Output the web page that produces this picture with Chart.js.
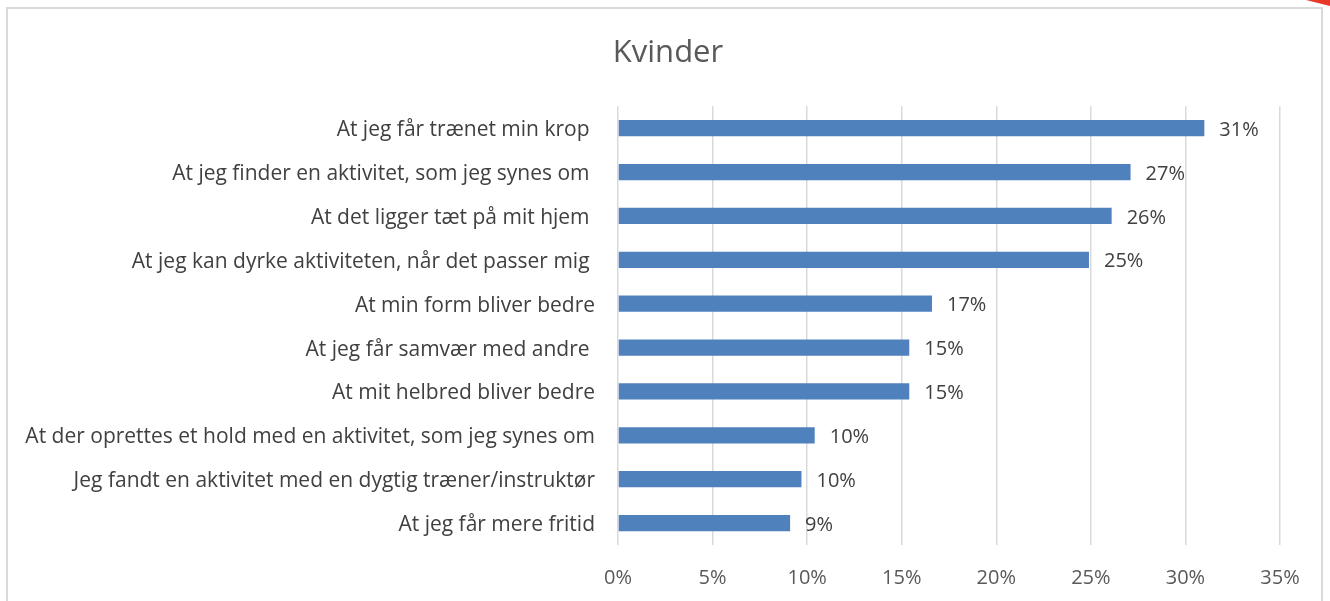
<!DOCTYPE html>
<html>
<head>
<meta charset="utf-8">
<script src="https://cdn.jsdelivr.net/npm/chart.js@4/dist/chart.umd.min.js"></script>
<style>
    html, body { margin: 0; padding: 0; background: #fff; overflow: hidden; }
    .frame { position: absolute; left: 6px; top: 7px; width: 1313px; height: 700px; border: 2px solid #d9d9d9; }
    .corner { position: absolute; right: 0; top: 0; width: 24px; height: 6px; background: #e8382c; clip-path: polygon(0 0, 100% 0, 100% 100%); }
    #chart { position: absolute; left: 0; top: 0; }
</style>
</head>
<body>
<div class="frame"></div>
<div class="corner"></div>
<canvas id="chart" width="1330" height="601"></canvas>
<script>
// categories, top to bottom
var categories = [
    'At jeg får trænet min krop ',
    'At jeg finder en aktivitet, som jeg synes om ',
    'At det ligger tæt på mit hjem ',
    'At jeg kan dyrke aktiviteten, når det passer mig ',
    'At min form bliver bedre',
    'At jeg får samvær med andre ',
    'At mit helbred bliver bedre',
    'At der oprettes et hold med en aktivitet, som jeg synes om',
    'Jeg fandt en aktivitet med en dygtig træner/instruktør',
    'At jeg får mere fritid'
];
// share of women, in percent
var values = [31.0, 27.1, 26.1, 24.9, 16.6, 15.4, 15.4, 10.4, 9.7, 9.1];
var tickValues = [0, 5, 10, 15, 20, 25, 30, 35];

var fontName = "'Open Sans', 'Liberation Sans', sans-serif";

/*  value labels next to the bars  */
var barLabels = {
    id: 'barLabels',
    afterDatasetsDraw: function(chart) {
        var ctx = chart.ctx;
        var meta = chart.getDatasetMeta(0);
        ctx.save();
        ctx.font = '20px ' + fontName;
        ctx.fillStyle = '#404040';
        ctx.textAlign = 'left';
        ctx.textBaseline = 'middle';
        meta.data.forEach(function(bar, i) {
            ctx.fillText(Math.round(values[i]) + '%', bar.x + 15, bar.y + 2);
        });
        ctx.restore();
    }
};

var ctx = document.getElementById('chart');
var myChart = new Chart(ctx, {
    type: 'bar',
    data: {
        labels: categories,
        datasets: [{
            data: values,
            backgroundColor: '#4f81bd',
            borderWidth: 0,
            categoryPercentage: 1,
            barPercentage: 0.37
        }]
    },
    plugins: [barLabels],
    options: {
        indexAxis: 'y',
        responsive: false,
        animation: false,
        layout: { padding: { left: 6, right: 0, top: 0, bottom: 0 } },
        plugins: {
            legend: { display: false },
            tooltip: { enabled: false },
            title: {
                display: true,
                text: 'Kvinder',
                color: '#595959',
                font: { family: fontName, size: 31, weight: 'normal' },
                padding: { top: 35, bottom: 34 }
            }
        },
        scales: {
            x: {
                min: 0,
                max: 35,
                afterBuildTicks: function(scale) {
                    scale.ticks = tickValues.map(function(v) { return { value: v }; });
                },
                afterFit: function(scale) { scale.height = 56; },
                grid: { color: '#d9d9d9', lineWidth: 1.5, drawTicks: false },
                border: { display: false },
                ticks: {
                    padding: 21,
                    color: '#595959',
                    font: { family: fontName, size: 20 },
                    callback: function(v) { return v + '%'; }
                }
            },
            y: {
                afterFit: function(scale) { scale.width = 612; },
                grid: { display: false, drawTicks: false },
                border: { display: false },
                ticks: {
                    padding: 23,
                    labelOffset: 2,
                    color: '#404040',
                    font: { family: fontName, size: 21 }
                }
            },
            // empty right margin so the plot ends at 35%
            yRight: {
                type: 'category',
                position: 'right',
                afterFit: function(scale) { scale.width = 50; },
                grid: { display: false, drawTicks: false },
                border: { display: false },
                ticks: { display: false }
            }
        }
    }
});
</script>
</body>
</html>
